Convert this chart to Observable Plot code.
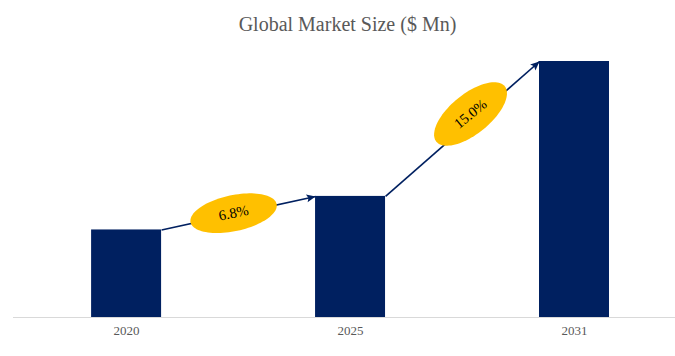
<!DOCTYPE html>
<html>
<head>
<meta charset="utf-8">
<script src="https://cdn.jsdelivr.net/npm/d3@7"></script>
<script src="https://cdn.jsdelivr.net/npm/@observablehq/plot@0.6"></script>
<style>
  html, body { margin: 0; padding: 0; background: #ffffff; }
  #title {
    width: 655px; height: 32px; padding-top: 14px; padding-left: 20px;
    font: 20px/20px "Liberation Serif", "Times New Roman", serif;
    color: #595959; text-align: center; white-space: nowrap;
  }
  #chart svg { display: block; }
</style>
</head>
<body>
<div id="title">Global Market Size ($ Mn)</div>
<div id="chart"></div>
<script>
// ---- data ----
const years = ["2020", "2025", "2031"];
const marketSize = [342, 473, 1000];          // relative bar heights
const cagrLabels = ["6.8%", "15.0%"];

// ---- styles ----
const labelAngles = [-12, -39];               // rotation of the CAGR bubbles (deg)
const labelOffsets = [[-5, 0], [8, -15]];      // bubble offsets from arrow midpoint (px)
const arrowAngles = [-12.3, -41.4];           // direction of arrow heads (deg)
const navy = "#002060";
const gold = "#FFC000";
const serif = "'Liberation Serif', 'Times New Roman', serif";
const halfBar = 0.15625;                      // half bar width in category steps

const bars = years.map((year, i) => ({i, year, value: marketSize[i]}));
const links = cagrLabels.map((label, k) => ({
  k, label,
  x1: k + halfBar, x2: k + 1 - halfBar,
  y1: marketSize[k], y2: marketSize[k + 1],
  xm: k + 0.5, ym: (marketSize[k] + marketSize[k + 1]) / 2
}));

function ellipseSymbol(a, b, deg) {
  const t = deg * Math.PI / 180, c = Math.cos(t), s = Math.sin(t);
  return {
    draw(ctx) {
      const n = 96;
      for (let j = 0; j <= n; ++j) {
        const u = j / n * 2 * Math.PI;
        const px = a * Math.cos(u), py = b * Math.sin(u);
        const X = px * c - py * s, Y = px * s + py * c;
        if (j === 0) ctx.moveTo(X, Y); else ctx.lineTo(X, Y);
      }
      ctx.closePath();
    }
  };
}

function headSymbol(deg, len = 9, half = 4) {
  const t = deg * Math.PI / 180, c = Math.cos(t), s = Math.sin(t);
  const pts = [[0, 0], [-len, -half], [-len * 0.8, 0], [-len, half]];
  return {
    draw(ctx) {
      pts.forEach(([px, py], j) => {
        const X = px * c - py * s, Y = px * s + py * c;
        if (j === 0) ctx.moveTo(X, Y); else ctx.lineTo(X, Y);
      });
      ctx.closePath();
    }
  };
}

const bubbleMarks = links.flatMap((d, k) => [
  Plot.dot([d], {
    x: "x2", y: "y2", r: 5,
    symbol: headSymbol(arrowAngles[k]),
    fill: navy, stroke: "none"
  }),
  Plot.dot([d], {
    x: "xm", y: "ym", r: 10,
    symbol: ellipseSymbol(44, k === 0 ? 18 : 20, labelAngles[k]),
    fill: gold, stroke: "none",
    dx: labelOffsets[k][0], dy: labelOffsets[k][1]
  }),
  Plot.text([d], {
    x: "xm", y: "ym", text: "label",
    rotate: labelAngles[k],
    dx: labelOffsets[k][0], dy: labelOffsets[k][1],
    fontSize: 14.5, fontFamily: serif, fill: "#000000"
  })
]);

const chart = Plot.plot({
  width: 675,
  height: 310,
  marginTop: 15,
  marginBottom: 39,
  marginLeft: 13,
  marginRight: 0,
  x: {domain: [-0.505, 2.451], axis: null},
  y: {domain: [0, 1000], axis: null},
  style: {background: "#ffffff", fontFamily: serif, overflow: "visible"},
  marks: [
    Plot.ruleY([0], {stroke: "#d9d9d9", strokeWidth: 1}),
    Plot.rectY(bars, {
      x1: d => d.i - halfBar, x2: d => d.i + halfBar,
      y1: 0, y2: "value", fill: navy
    }),
    Plot.link(links, {
      x1: "x1", y1: "y1", x2: "x2", y2: "y2",
      stroke: navy, strokeWidth: 1.6
    }),
    ...bubbleMarks,
    Plot.text(bars, {
      x: "i", text: "year", frameAnchor: "bottom", dy: 17,
      fontSize: 13, fontFamily: serif, fill: "#595959"
    })
  ]
});
document.getElementById("chart").appendChild(chart);
</script>
</body>
</html>
